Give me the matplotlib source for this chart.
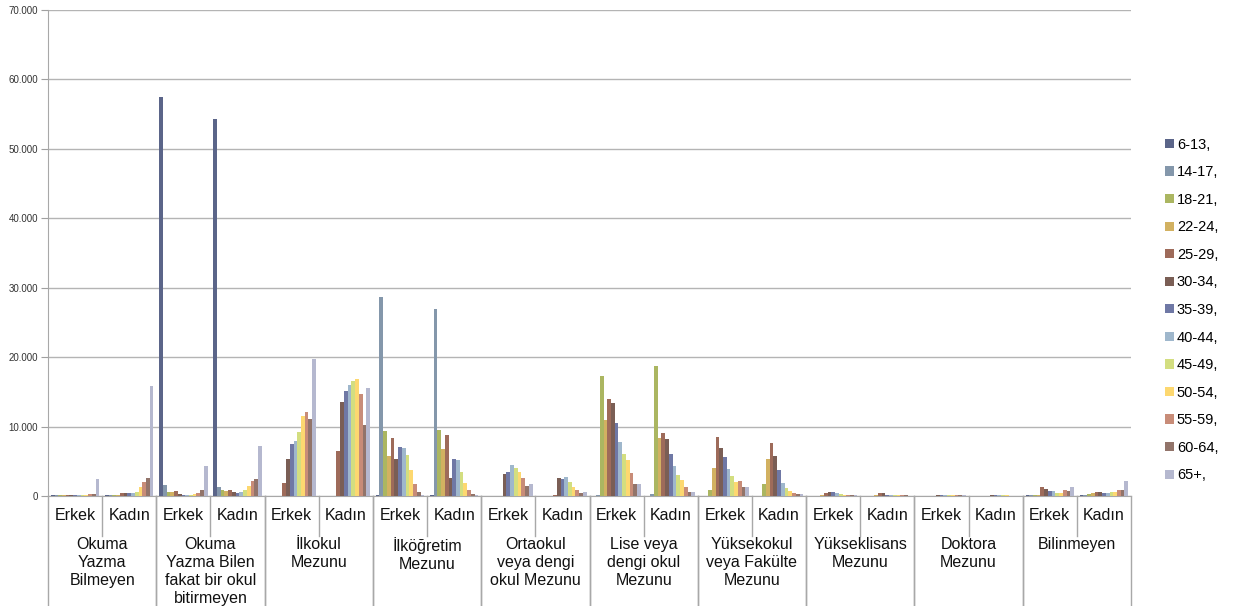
import numpy as np
import matplotlib
matplotlib.use("Agg")
import matplotlib.pyplot as plt
from matplotlib.lines import Line2D

plt.rcParams['font.family'] = ['Liberation Sans', 'DejaVu Sans']

categories = ["Okuma\nYazma\nBilmeyen", "Okuma\nYazma Bilen\nfakat bir okul\nbitirmeyen",
              "İlkokul\nMezunu", "İlköğretim\nMezunu", "Ortaokul\nveya dengi\nokul Mezunu",
              "Lise veya\ndengi okul\nMezunu", "Yüksekokul\nveya Fakülte\nMezunu",
              "Yükseklisans\nMezunu", "Doktora\nMezunu", "Bilinmeyen"]
genders = ["Erkek", "Kadın"]
age_groups = ["6-13,", "14-17,", "18-21,", "22-24,", "25-29,", "30-34,", "35-39,",
              "40-44,", "45-49,", "50-54,", "55-59,", "60-64,", "65+,"]
colors = ["#5b6589", "#8497ab", "#abb661", "#d2b161", "#9e6b5a", "#7a5e55", "#6f78a5",
          "#9fb7cc", "#d3de80", "#fdd870", "#c88c78", "#92746a", "#b5b8cf"]

# rows = category/gender groups, columns = age groups
values = np.array([
    # Okuma Yazma Bilmeyen
    [150, 150, 150, 150, 200, 200, 150, 150, 150, 150, 300, 300, 2450],
    [100, 100, 100, 100, 400, 400, 400, 400, 600, 1350, 2000, 2600, 15800],
    # Okuma Yazma Bilen fakat bir okul bitirmeyen
    [57500, 1600, 600, 600, 650, 300, 150, 100, 100, 300, 500, 800, 4300],
    [54300, 1300, 850, 700, 900, 600, 400, 600, 800, 1400, 2200, 2400, 7200],
    # İlkokul Mezunu
    [0, 0, 0, 0, 1900, 5300, 7500, 7900, 9200, 11500, 12100, 11100, 19800],
    [0, 0, 0, 0, 6500, 13500, 15100, 16000, 16600, 16900, 14700, 10200, 15600],
    # İlköğretim Mezunu
    [200, 28700, 9400, 5800, 8400, 5300, 7100, 6900, 5900, 3700, 1700, 600, 200],
    [200, 26900, 9500, 6800, 8800, 2600, 5300, 5200, 3500, 1900, 800, 300, 100],
    # Ortaokul veya dengi okul Mezunu
    [0, 0, 0, 0, 50, 3200, 3500, 4400, 4000, 3400, 2600, 1400, 1700],
    [0, 0, 0, 0, 150, 2600, 2500, 2700, 2000, 1300, 800, 500, 600],
    # Lise veya dengi okul Mezunu
    [0, 150, 17300, 10900, 14000, 13400, 10500, 7800, 6000, 5200, 3300, 1700, 1700],
    [0, 250, 18700, 8400, 9100, 8200, 6100, 4300, 3000, 2300, 1300, 600, 600],
    # Yüksekokul veya Fakülte Mezunu
    [0, 0, 900, 4100, 8500, 6900, 5600, 3900, 2900, 2000, 2100, 1300, 1300],
    [0, 0, 1800, 5300, 7600, 5700, 3700, 1900, 1100, 700, 500, 300, 300],
    # Yükseklisans Mezunu
    [0, 0, 0, 100, 500, 600, 600, 400, 250, 150, 100, 100, 100],
    [0, 0, 0, 100, 500, 500, 200, 100, 100, 100, 100, 100, 50],
    # Doktora Mezunu
    [0, 0, 0, 0, 50, 120, 150, 120, 100, 100, 100, 100, 80],
    [0, 0, 0, 0, 50, 100, 100, 100, 80, 80, 60, 60, 40],
    # Bilinmeyen
    [100, 100, 100, 200, 1300, 1000, 700, 700, 500, 500, 800, 700, 1300],
    [100, 100, 300, 400, 600, 600, 500, 500, 600, 600, 900, 800, 2100],
])

fig = plt.figure(figsize=(12.35, 6.06), dpi=100)
ax = fig.add_axes([48 / 1235, 1 - 496 / 606, (1131 - 48) / 1235, 486 / 606])

n_groups = values.shape[0]
n_ages = values.shape[1]
w = 1 / (n_ages + 1.5)
for i in range(n_ages):
    x = np.arange(n_groups) + 0.75 * w + i * w + w / 2
    ax.bar(x, values[:, i], width=w, color=colors[i], label=age_groups[i], zorder=3)

ax.set_xlim(0, n_groups)
ax.set_ylim(0, 70000)
ax.set_yticks(np.arange(0, 70001, 10000))
ax.set_yticklabels(["0"] + [f"{v // 1000}.000" for v in range(10000, 70001, 10000)],
                   fontsize=7, color="#333333")
ax.yaxis.grid(True, color="#b4b4b4", lw=1, zorder=0)
ax.set_xticks([])
ax.tick_params(axis="y", length=5, color="#a0a0a0", pad=2)
for s in ["top", "right"]:
    ax.spines[s].set_visible(False)
ax.spines["left"].set_color("#a8a8a8")
ax.spines["bottom"].set_color("#a8a8a8")

# two level category labels
px = 1 / 486
for g in range(n_groups):
    ax.text(g + 0.5, -20 * px, genders[g % 2], transform=ax.get_xaxis_transform(),
            ha="center", va="center", fontsize=11.5, color="#111111")
    if g % 2 == 1:
        ax.add_line(Line2D([g, g], [0, -40 * px], transform=ax.get_xaxis_transform(),
                           color="#a8a8a8", lw=1, clip_on=False))
for c in range(len(categories)):
    ax.text(2 * c + 1, -41 * px, categories[c], transform=ax.get_xaxis_transform(),
            ha="center", va="top", fontsize=11.5, color="#111111", linespacing=1.24)
    for xb in [2 * c, 2 * c + 2]:
        ax.add_line(Line2D([xb, xb], [0, -115 * px], transform=ax.get_xaxis_transform(),
                           color="#a8a8a8", lw=1, clip_on=False))

fig.legend(loc="center left", bbox_to_anchor=(1152 / 1235, 1 - 310 / 606), frameon=False,
           fontsize=10.5, handlelength=0.6, handleheight=0.6, handletextpad=0.2,
           labelspacing=0.93)

fig.savefig("out.png", dpi=100)
